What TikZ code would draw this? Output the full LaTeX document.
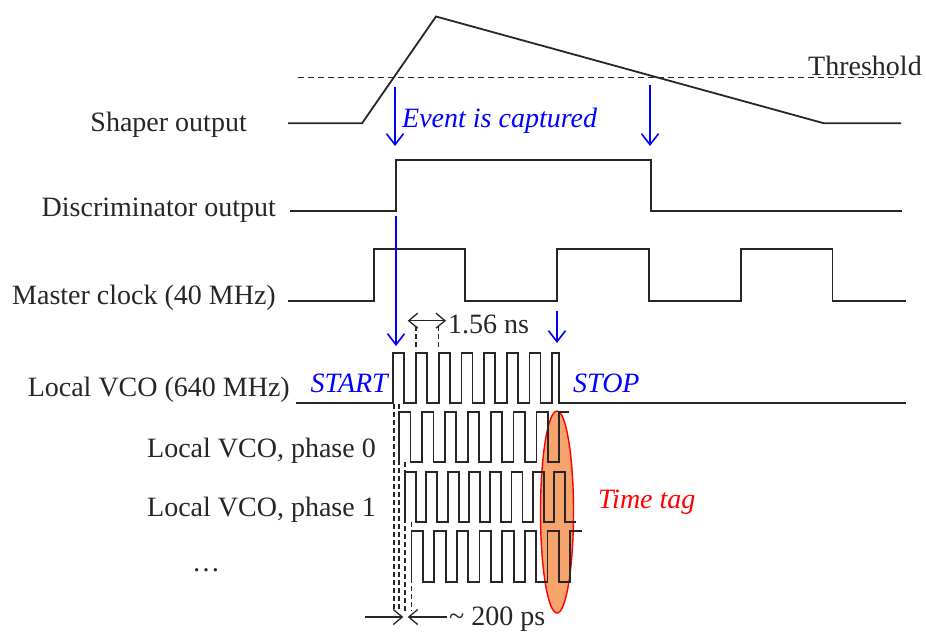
\documentclass[tikz,border=0pt]{standalone}
\usepackage{fontspec}
\setmainfont{Liberation Serif}
\usepackage{xcolor}
\usepackage{tikz}
\usetikzlibrary{arrows.meta,shapes.geometric}
\definecolor{tagfill}{RGB}{247,163,110}
\definecolor{ink}{RGB}{38,38,38}

\begin{document}
\begin{tikzpicture}[
  x=1pt, y=-1pt,
  font=\fontsize{28}{32}\selectfont,
  lbl/.style={inner sep=0pt, text=ink},
  note/.style={inner sep=0pt, font=\fontsize{28}{32}\selectfont\itshape},
  wave/.style={line width=1.8pt, draw=ink, line join=miter},
  guide/.style={line width=1.1pt, draw=ink, dash pattern=on 5pt off 3pt},
  bluearrow/.style={blue, line width=1.6pt,
                    -{Straight Barb[length=11pt,width=17pt]}},
  dimarrow/.style={line width=1.3pt, ink,
                   -{Straight Barb[length=9pt,width=15pt]}}
]
\useasboundingbox (0,0) rectangle (926,634);

%% --- labels on the left ---
\node[lbl, anchor=base east] (shp) at (247,131) {Shaper output};
\node[lbl, anchor=base east] (dsc) at (276,216) {Discriminator output};
\node[lbl, anchor=base east] (mck) at (276,304) {Master clock (40 MHz)};
\node[lbl, anchor=base east] (vco) at (290,396) {Local VCO (640 MHz)};
\node[lbl, anchor=base east] (ph0) at (376,457) {Local VCO, phase 0};
\node[lbl, anchor=base east] (ph1) at (376,516) {Local VCO, phase 1};
\node[lbl, anchor=base west] (dots) at (192,571) {\dots};

%% --- shaper output and threshold ---
\draw[line width=1.2pt, ink, dash pattern=on 6pt off 4pt] (298,77.3) -- (898,77.3);
\node[lbl, anchor=base west] (thr) at (808,76) {Threshold};
\draw[wave] (288,123.3) -- (362,123.3) -- (436,16.5) -- (824,123.3) -- (901,123.3);

\coordinate (upA) at (395,87);   \coordinate (upB) at (395,146);
\coordinate (dnA) at (650,85);   \coordinate (dnB) at (650,146);
\draw[bluearrow] (upA) -- (upB);
\draw[bluearrow] (dnA) -- (dnB);
\node[note, text=blue, anchor=base west] (evt) at (402,127) {Event is captured};

%% --- discriminator output ---
\draw[wave] (290,211) -- (396,211) -- (396,160) -- (651,160) -- (651,211) -- (902,211);

%% --- master clock ---
\draw[wave] (287.5,300.7)
  \foreach \x in {373.6,557,740.8} {
    -- (\x,300.7) -- (\x,249.3) -- (\x+91.6,249.3) -- (\x+91.6,300.7)
  } -- (906,300.7);

%% --- local VCO ---
\coordinate (stA) at (396,216);  \coordinate (stB) at (396,346);
\coordinate (spA) at (557,311);  \coordinate (spB) at (557,343);
\draw[bluearrow] (stA) -- (stB);
\draw[bluearrow] (spA) -- (spB);
\node[note, text=blue, anchor=base east] (start) at (388,392) {START};
\node[note, text=blue, anchor=base west] (stop) at (573,392) {STOP};

\draw[wave] (296,403) -- (393.3,403)
  \foreach \k in {1,...,7} { -- ++(0,-50.3) -- ++(11,0) -- ++(0,50.3) -- ++(11.7,0) }
  -- ++(0,-50.3) -- ++(6.8,0) -- ++(0,50.3) -- (906,403);

\draw[guide] (416,326) -- (416,350);
\draw[guide] (438.7,326) -- (438.7,350);
\coordinate (nsA) at (427,320.7);
\coordinate (nsL) at (407.7,320.7); \coordinate (nsR) at (446,320.7);
\draw[dimarrow] (nsA) -- (nsL);
\draw[dimarrow] (nsA) -- (nsR);
\node[lbl, anchor=base west] (ns) at (448,333) {1.56 ns};

%% --- time tag ---
\node[ellipse, draw=red, line width=1.4pt, fill=tagfill, inner sep=0pt,
      minimum width=33pt, minimum height=202pt] (tag) at (557,512) {};
\node[note, text=red, anchor=base west] (ttag) at (598,508) {Time tag};

%% --- VCO phases ---
\draw[wave] (399,462)
  \foreach \k in {1,...,7} { -- ++(0,-50) -- ++(11.5,0) -- ++(0,50) -- ++(11.4,0) }
  -- ++(0,-50) -- (569.3,412);
\draw[wave] (405,522.3)
  \foreach \k in {1,...,7} { -- ++(0,-50) -- ++(11,0) -- ++(0,50) -- ++(10.3,0) }
  -- ++(0,-50) -- ++(11,0) -- ++(0,50) -- (576,522.3);
\draw[wave] (411.5,581.7)
  \foreach \k in {1,...,7} { -- ++(0,-51) -- ++(11.5,0) -- ++(0,51) -- ++(11.17,0) }
  -- ++(0,-51) -- (581.7,530.7);

%% --- phase spacing ---
\draw[guide] (394,404) -- (394,611);
\draw[guide] (399,404) -- (399,611);
\draw[guide] (405,462) -- (405,611);
\draw[guide] (411.5,522) -- (411.5,611);
\coordinate (psL) at (365,617); \coordinate (psLt) at (403.3,617);
\coordinate (psR) at (447,617); \coordinate (psRt) at (407.7,617);
\draw[dimarrow] (psL) -- (psLt);
\draw[dimarrow] (psR) -- (psRt);
\node[lbl, anchor=base west] (ps) at (449,625) {\textasciitilde{} 200 ps};
\end{tikzpicture}
\end{document}
